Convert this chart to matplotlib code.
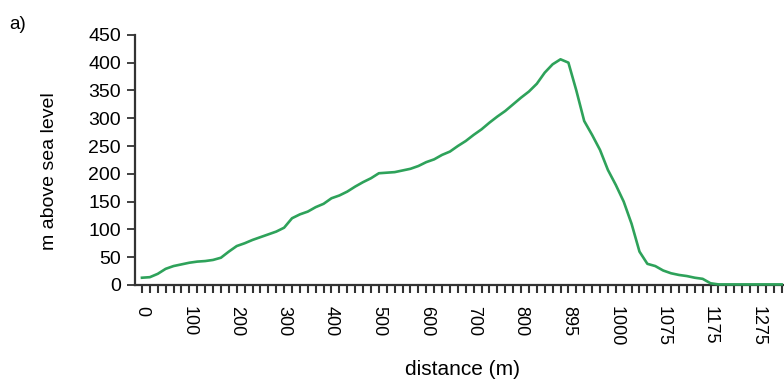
import matplotlib

matplotlib.use("Agg")

import matplotlib.pyplot as plt
import numpy as np

# elevation profile sampled along the transect (one value per sample point)
elevation_m = [
    13, 14, 20, 29, 34, 37, 40, 42, 43, 45,
    49, 60, 70, 75, 81, 86, 91, 96, 103, 120,
    127, 132, 140, 146, 156, 161, 168, 177, 185, 192,
    201, 202, 203, 206, 209, 214, 221, 226, 234, 240,
    250, 259, 270, 280, 292, 303, 313, 325, 337, 348,
    362, 382, 397, 406, 400, 350, 295, 270, 243, 207,
    180, 150, 110, 60, 38, 34, 26, 21, 18, 16,
    13, 11, 3, 1, 1, 1, 1, 1, 1, 1,
    1, 1,
]

# distance labels shown on every sixth sample point
distance_labels = ["0", "100", "200", "300", "400", "500", "600", "700",
                   "800", "895", "1000", "1075", "1175", "1275"]
label_step = 6

plt.rcParams["font.family"] = ["Liberation Sans", "DejaVu Sans"]

fig = plt.figure(figsize=(7.84, 3.83), dpi=100)
ax = fig.add_axes([0.172, 0.256, 0.828, 0.653])

idx = np.arange(len(elevation_m))
ax.plot(idx, elevation_m, color="#2ea25a", linewidth=1.9, solid_joinstyle="round",
        zorder=3, clip_on=False)

ax.set_ylim(0, 450)
ax.set_yticks(np.arange(0, 451, 50))
ax.set_xlim(-0.9, 81.3)
ax.set_xticks(np.arange(0, len(distance_labels) * label_step, label_step))
ax.set_xticklabels(distance_labels, rotation=-90, va="top", ha="center")
ax.set_xticks(idx, minor=True)

for side in ("top", "right"):
    ax.spines[side].set_visible(False)
for side in ("left", "bottom"):
    ax.spines[side].set_color("#333333")
    ax.spines[side].set_linewidth(1.6)

ax.tick_params(axis="y", direction="out", length=6, width=1.3, color="#333333",
               labelsize=14, pad=4)
ax.tick_params(axis="x", which="both", direction="out", length=6, width=1.5,
               color="#333333", labelsize=13, pad=9)

ax.set_ylabel("m above sea level", fontsize=14, va="center")
ax.yaxis.set_label_coords(-0.131, 0.454)
ax.set_xlabel("distance (m)", fontsize=15, va="center")
ax.xaxis.set_label_coords(0.505, -0.34)

fig.text(0.012, 0.935, "a)", fontsize=13.5, ha="left", va="center")

fig.savefig("out.png", dpi=100)
